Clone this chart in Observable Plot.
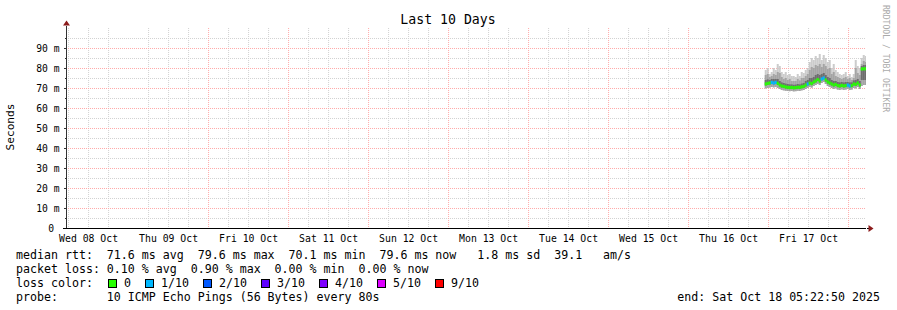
<!DOCTYPE html>
<html><head><meta charset="utf-8">
<script src="https://cdn.jsdelivr.net/npm/d3@7"></script>
<script src="https://cdn.jsdelivr.net/npm/@observablehq/plot@0.6"></script>
<style>
html,body{margin:0;padding:0;background:#fff}
svg{display:block}
svg text.pre{white-space:pre}
</style>
</head><body><div id="chart"></div>
<script>
// ---- time range ----
const rangeStart = Date.UTC(2025, 9, 8, 5, 22, 50);
const rangeEnd = Date.UTC(2025, 9, 18, 5, 22, 50);
const dataStart = Date.UTC(2025, 9, 16, 23, 0, 0);
const stepMs = 36 * 60 * 1000; // one sample per 36 min

// ---- series (ms) ----
const median = [72.0, 72.3, 72.5, 72.8, 72.5, 72.8, 72.3, 71.5, 71.0, 70.8, 70.5, 70.3, 70.2, 70.3, 70.1, 70.2, 70.4, 70.3, 70.6, 70.8, 71.5, 72.0, 72.5, 72.2, 73.0, 73.5, 74.2, 73.5, 74.5, 75.0, 74.0, 73.0, 72.5, 72.0, 71.5, 71.8, 71.2, 71.0, 71.3, 71.0, 71.2, 71.5, 71.0, 71.2, 72.0, 71.8, 72.5, 71.5, 79.5, 79.6, 79.6];
const lossIdx = [0, 0, 0, 1, 1, 1, 0, 0, 0, 0, 0, 0, 0, 0, 0, 0, 0, 0, 0, 0, 0, 1, 0, 0, 0, 0, 0, 0, 1, 1, 0, 0, 0, 0, 0, 0, 0, 0, 0, 0, 0, 1, 1, 0, 0, 0, 0, 0, 0, 0, 0];
const pingMin = [69.8, 70, 70.2, 70.5, 70.3, 70.5, 70, 69.5, 69, 68.8, 68.6, 68.5, 68.4, 68.5, 68.3, 68.4, 68.6, 68.5, 68.8, 69, 69.5, 70, 70.5, 70.2, 71, 71.5, 72, 71.5, 72.5, 73, 72, 71, 70.5, 70, 69.5, 69.8, 69.2, 69, 69.3, 69, 69.2, 69.5, 69, 69.2, 70, 69.8, 70.5, 69.5, 71, 71.5, 71.5];
const pingLo = [71.3, 71.6, 71.8, 72.1, 71.8, 72.1, 71.6, 70.8, 70.3, 70.1, 69.8, 69.6, 69.5, 69.6, 69.4, 69.5, 69.7, 69.6, 69.9, 70.1, 70.8, 71.3, 71.8, 71.5, 72.3, 72.8, 73.5, 72.8, 73.8, 74.3, 73.3, 72.3, 71.8, 71.3, 70.8, 71.1, 70.5, 70.3, 70.6, 70.3, 70.5, 70.8, 70.3, 70.5, 71.3, 71.1, 71.8, 70.8, 74, 74, 74];
const pingMid = [74, 74.3, 74, 74.5, 74.5, 74.5, 74.5, 73.5, 72.8, 72.5, 72.2, 72, 71.8, 71.8, 71.6, 71.7, 72, 71.8, 72.2, 72.5, 73.5, 74, 75, 75, 75.5, 76.5, 77, 76.5, 77, 77.5, 76.5, 75.5, 75, 74, 73.5, 73.5, 73, 72.8, 73, 72.8, 73, 73, 72.8, 72.8, 73.8, 74, 74.5, 73.5, 81, 81.5, 81.5];
const pingHi = [76.5, 77, 75.5, 76, 77, 76.5, 78, 77.5, 75.5, 74.5, 75, 74, 74.5, 73.5, 73.5, 73.5, 74.5, 73.8, 75, 75, 76, 77, 79, 80.5, 80, 81.5, 81, 82, 80.5, 82, 81, 79.5, 80, 77, 78, 76, 75.5, 75, 74.5, 75, 75.5, 74.5, 75, 74, 75, 80, 77.5, 76.5, 82, 83.5, 83];
const pingMax = [79, 80, 77, 78, 80, 79, 82, 81, 78, 77, 78, 76.5, 77, 76, 76, 75.5, 77, 76, 78, 77.5, 79, 80, 83, 85, 84, 86, 85, 87, 84, 86.5, 85, 83, 84, 80, 82, 79, 78, 77, 76.5, 77, 78, 76, 77, 75.5, 77, 84, 81, 80, 85, 86.5, 86];

// ---- axes / legend text ----
const dayLabels = ["Wed 08 Oct", "Thu 09 Oct", "Fri 10 Oct", "Sat 11 Oct", "Sun 12 Oct", "Mon 13 Oct", "Tue 14 Oct", "Wed 15 Oct", "Thu 16 Oct", "Fri 17 Oct"];
const yTicks = [0, 10, 20, 30, 40, 50, 60, 70, 80, 90];
const yMinor = [5, 15, 25, 35, 45, 55, 65, 75, 85, 95];
const lossColors = ["#26ff00", "#00b8ff", "#0059ff", "#5e00ff", "#7e00ff", "#dd00ff", "#ff0000"];
const lossLabels = ["0", "1/10", "2/10", "3/10", "4/10", "5/10", "9/10"];
const titleText = "Last 10 Days";
const yLabel = "Seconds";
const legendLines = [
  "median rtt:  71.6 ms avg  79.6 ms max  70.1 ms min  79.6 ms now   1.8 ms sd  39.1   am/s",
  "packet loss: 0.10 % avg  0.90 % max  0.00 % min  0.00 % now",
  "loss color:",
  "probe:       10 ICMP Echo Pings (56 Bytes) every 80s"
];
const endText = "end: Sat Oct 18 05:22:50 2025";
const watermark = "RRDTOOL / TOBI OETIKER";

// ---- build tables ----
const rows = median.map((m, i) => ({
  t0: new Date(dataStart + i * stepMs),
  t1: new Date(dataStart + (i + 1) * stepMs),
  med: m, loss: lossColors[lossIdx[i]],
  min: pingMin[i], lo: pingLo[i], mid: pingMid[i], hi: pingHi[i], max: pingMax[i]
}));
const dayStarts = d3.utcDay.range(new Date(rangeStart), new Date(rangeEnd)).slice(1);
const sixHours = d3.utcHour.every(6).range(new Date(rangeStart), new Date(rangeEnd)).filter(d => d.getUTCHours() !== 0);
const noons = dayLabels.map((l, i) => ({t: new Date(Date.UTC(2025, 9, 8 + i, 12)), l}));

const mono = "DejaVu Sans Mono";
const dotted = "1,1";

const chart = Plot.plot({
  width: 897, height: 310,
  marginLeft: 66, marginRight: 31, marginTop: 28, marginBottom: 82,
  x: {type: "utc", domain: [new Date(rangeStart), new Date(rangeEnd)], axis: null},
  y: {domain: [0, 100], axis: null},
  color: {type: "identity"},
  style: {fontFamily: mono, background: "#fff", overflow: "visible"},
  marks: [
    Plot.ruleY(yMinor, {stroke: "#d2d2d2", strokeDasharray: dotted}),
    Plot.ruleX(sixHours, {stroke: "#d2d2d2", strokeDasharray: dotted}),
    Plot.ruleY(yTicks.filter(d => d > 0), {stroke: "#ffaaaa", strokeDasharray: dotted}),
    Plot.ruleX(dayStarts, {stroke: "#ffaaaa", strokeDasharray: dotted}),
    Plot.rect(rows, {x1: "t0", x2: "t1", y1: "min", y2: "max", fill: "#cccccc", clip: true}),
    Plot.rect(rows, {x1: "t0", x2: "t1", y1: "min", y2: "hi", fill: "#a4a4a4", clip: true}),
    Plot.rect(rows, {x1: "t0", x2: "t1", y1: "lo", y2: "mid", fill: "#6e6e6e", clip: true}),
    Plot.rect(rows, {x1: "t0", x2: "t1", y1: d => d.med - 0.8, y2: d => d.med + 0.8, fill: "loss", clip: true}),
    Plot.ruleY([0], {stroke: "#000"}),
    Plot.ruleX([new Date(rangeStart)], {stroke: "#333"}),
    Plot.text(yTicks.filter(d => d > 0), {y: d => d, text: d => `${d} m`, frameAnchor: "left", textAnchor: "end", dx: -7, fontSize: 9.7, fill: "#000"}),
    Plot.text([0], {y: d => d, text: d => `${d}`, frameAnchor: "left", textAnchor: "end", dx: -12.5, fontSize: 9.7, fill: "#000"}),
    Plot.text(noons, {x: "t", text: "l", frameAnchor: "bottom", dy: 13, fontSize: 9.8, fill: "#000"})
  ]
});

document.getElementById("chart").appendChild(chart);

// ---- decorations appended with d3 using the plot scales ----
const svg = d3.select(chart);
const xs = chart.scale("x"), ys = chart.scale("y");
const x0 = Math.round(xs.apply(new Date(rangeStart))) + 0.5, x1 = Math.round(xs.apply(new Date(rangeEnd))) + 0.5;
const yTop = Math.round(ys.apply(100)) + 0.5, yBot = Math.round(ys.apply(0)) + 0.5;

// small axis ticks
const tk = svg.append("g").attr("stroke", "#333").attr("shape-rendering", "crispEdges");
yTicks.forEach(v => tk.append("line").attr("x1", x0 - 3).attr("x2", x0).attr("y1", Math.round(ys.apply(v)) + 0.5).attr("y2", Math.round(ys.apply(v)) + 0.5));
yMinor.forEach(v => tk.append("line").attr("x1", x0 - 2).attr("x2", x0).attr("y1", Math.round(ys.apply(v)) + 0.5).attr("y2", Math.round(ys.apply(v)) + 0.5));
tk.append("line").attr("x1", x0 - 4).attr("x2", x0).attr("y1", yBot).attr("y2", yBot).attr("stroke", "#000");
tk.append("line").attr("x1", x0).attr("x2", x0).attr("y1", yTop - 3).attr("y2", yTop);
tk.append("line").attr("x1", x1).attr("x2", x1 + 2).attr("y1", yBot).attr("y2", yBot).attr("stroke", "#000");
// arrows
svg.append("path").attr("d", `M${x0 - 3.5},${yTop - 3}L${x0 + 3.5},${yTop - 3}L${x0},${yTop - 8}Z`).attr("fill", "#8c1c1c");
svg.append("path").attr("d", `M${x1 + 2},${yBot - 3.5}L${x1 + 2},${yBot + 3.5}L${x1 + 7},${yBot}Z`).attr("fill", "#8c1c1c");

function addText(x, y, s, size, anchor, extra) {
  const t = svg.append("text").attr("x", x).attr("y", y).attr("text-anchor", anchor)
    .attr("font-family", mono).attr("font-size", size).attr("fill", "#000").text(s);
  if (extra) extra(t);
  return t;
}
// title
addText(448, 24, titleText, 13.2, "middle");
// y label
svg.append("text").attr("transform", `translate(14,127) rotate(-90)`).attr("text-anchor", "middle")
  .attr("font-family", mono).attr("font-size", 11.2).attr("fill", "#000").text(yLabel);
// watermark
svg.append("text").attr("transform", `translate(883,5) rotate(90)`).attr("text-anchor", "start")
  .attr("font-family", mono).attr("font-size", 8.1).attr("fill", "#aaaaaa").text(watermark);

// legend lines
const baselines = [259, 273, 287, 301];
legendLines.forEach((s, i) => addText(16, baselines[i], s, 11.62, "start", t => t.attr("class", "pre")));
// loss color swatches
const swX = [108, 145, 203, 261, 319, 377, 435];
lossColors.forEach((c, i) => {
  svg.append("rect").attr("x", swX[i] + 0.5).attr("y", 279.5).attr("width", 8).attr("height", 8)
    .attr("fill", c).attr("stroke", "#000").attr("stroke-width", 1);
  addText(swX[i] + 16, baselines[2], lossLabels[i], 11.62, "start");
});
addText(880, baselines[3], endText, 11.62, "end");
</script></body></html>
